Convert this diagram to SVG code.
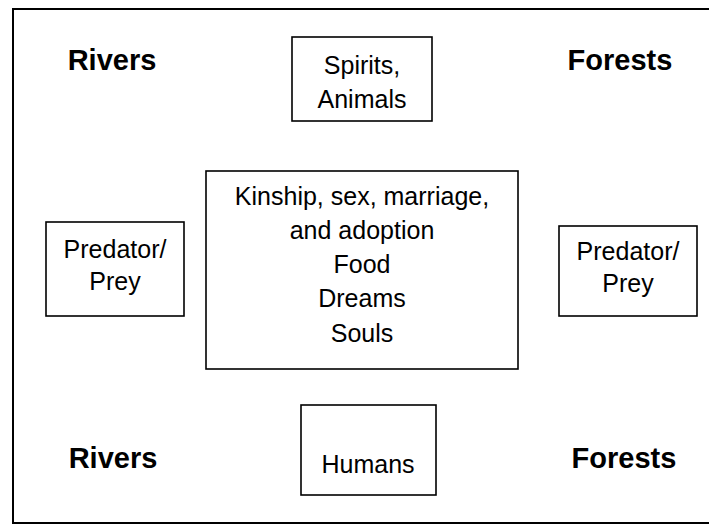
<svg xmlns="http://www.w3.org/2000/svg" width="709" height="525" viewBox="0 0 709 525">
<style>
.frame{fill:none;stroke:#000;stroke-width:2}
.box{fill:#fff;stroke:#000;stroke-width:1.6}
.t{font-family:"Liberation Sans",Arial,sans-serif;font-size:25px;text-anchor:middle;fill:#000}
.b{font-family:"Liberation Sans",Arial,sans-serif;font-size:29px;font-weight:bold;text-anchor:middle;fill:#000}
</style>
<rect width="709" height="525" fill="#fff"/>
<path class="frame" d="M709,9 H13 V523 H709"/>
<g id="labels">
<text class="b" x="112" y="70">Rivers</text>
<text class="b" x="620" y="70">Forests</text>
<text class="b" x="113" y="468">Rivers</text>
<text class="b" x="624" y="468">Forests</text>
</g>
<g id="spirits">
<rect class="box" x="292" y="37" width="140" height="84"/>
<text class="t" x="362" y="74">Spirits,</text>
<text class="t" x="362" y="108">Animals</text>
</g>
<g id="center">
<rect class="box" x="206" y="171" width="312" height="198"/>
<text class="t" x="362" y="205">Kinship, sex, marriage,</text>
<text class="t" x="362" y="239">and adoption</text>
<text class="t" x="362" y="273">Food</text>
<text class="t" x="362" y="307">Dreams</text>
<text class="t" x="362" y="342">Souls</text>
</g>
<g id="predator-left">
<rect class="box" x="46" y="222" width="138" height="94"/>
<text class="t" x="115" y="258">Predator/</text>
<text class="t" x="115" y="290">Prey</text>
</g>
<g id="predator-right">
<rect class="box" x="559" y="226" width="138" height="90"/>
<text class="t" x="628" y="260">Predator/</text>
<text class="t" x="628" y="292">Prey</text>
</g>
<g id="humans">
<rect class="box" x="301" y="405" width="135" height="90"/>
<text class="t" x="368" y="473">Humans</text>
</g>
<g id="connectors"></g>
</svg>
